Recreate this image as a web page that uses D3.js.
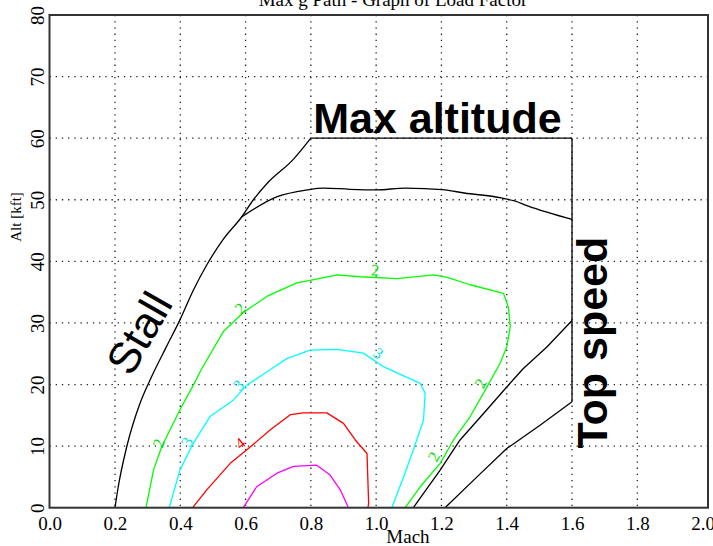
<!DOCTYPE html>
<html>
<head>
<meta charset="utf-8">
<script src="https://cdn.jsdelivr.net/npm/d3@7"></script>
<style>
  body { margin: 0; background: #fff; }
  svg { display: block; }
</style>
</head>
<body>
<div id="chart"></div>
<script>
// Chart data (Mach, altitude in kft)

var machTicks = [0.0, 0.2, 0.4, 0.6, 0.8, 1.0, 1.2, 1.4, 1.6, 1.8, 2.0];
var altTicks = [0, 10, 20, 30, 40, 50, 60, 70, 80];

// stall boundary, up to the max altitude corner
var stallLine = [[0.2, 0], [0.21, 3.4], [0.236, 9.9], [0.277, 17], [0.307, 20.7],
  [0.36, 26.4], [0.399, 30.5], [0.44, 35.3], [0.481, 39.4], [0.532, 43.6],
  [0.588, 47.2], [0.624, 50], [0.665, 52.6], [0.747, 56.6], [0.8, 60]];
var maxAltLine = [[0.8, 60], [1.6, 60]];
var topSpeedLine = [[1.6, 60], [1.6, 17.2]];

// ceiling (n = 1)
var ceilingLine = [[0.588, 47.2], [0.697, 50.5], [0.788, 51.6], [0.838, 51.9],
  [0.919, 51.7], [1.0, 51.6], [1.09, 51.9], [1.15, 51.8], [1.21, 51.6],
  [1.27, 51.1], [1.384, 50.3], [1.424, 49.8], [1.464, 49.0], [1.6, 46.8]];

// the two black lines at the high speed side
var highSpeedA = [[1.114, 0], [1.196, 6.1], [1.257, 11], [1.329, 15.3], [1.4, 19.6],
  [1.451, 22.6], [1.523, 26.1], [1.6, 30.4]];
var highSpeedB = [[1.211, 0], [1.309, 5], [1.4, 9.6], [1.502, 13.4], [1.6, 17.2]];

// load factor contours
var contour2 = [[0.295, 0], [0.318, 6.1], [0.343, 9.9], [0.399, 15.9], [0.44, 19.9],
  [0.466, 22.6], [0.532, 28.6], [0.593, 31.7], [0.665, 34.3], [0.757, 36.5],
  [0.798, 36.9], [0.88, 37.8], [0.951, 37.5], [1.063, 37.2], [1.176, 37.8],
  [1.217, 37.4], [1.288, 36.2], [1.39, 34.8], [1.405, 32.6], [1.411, 29.4],
  [1.4, 26.1], [1.38, 23.5], [1.334, 19.1], [1.288, 14.8], [1.237, 11],
  [1.196, 7.2], [1.135, 3.4], [1.089, 0]];
var contour3 = [[0.366, 0], [0.399, 6.1], [0.44, 10.5], [0.491, 14.8], [0.563, 17.5],
  [0.604, 19.9], [0.675, 22.4], [0.726, 24.2], [0.798, 25.6], [0.88, 25.7],
  [0.961, 25.1], [0.992, 24], [1.022, 22.9], [1.135, 20.2], [1.15, 18.6],
  [1.145, 14.2], [1.114, 9.4], [1.084, 5], [1.048, 0]];
var contour4 = [[0.438, 0], [0.481, 2.9], [0.553, 7.2], [0.604, 9.4], [0.675, 12.6],
  [0.737, 15.1], [0.777, 15.4], [0.849, 15.4], [0.9, 13.7], [0.936, 11],
  [0.972, 8.8], [0.977, 0.7], [0.975, 0]];
var contour5 = [[0.593, 0], [0.634, 3.4], [0.696, 5.6], [0.747, 6.7], [0.818, 6.9],
  [0.859, 5.3], [0.89, 2.9], [0.915, 0]];

// contour labels: [mach, alt, text]
var labels2 = [[0.997, 38.6, "2"], [0.583, 32.4, "2"], [0.333, 10.5, "2"],
  [1.319, 20.2, "2"], [1.176, 8.3, "2"]];
var labels3 = [[1.007, 25.1, "3"], [0.578, 19.9, "3"], [0.42, 10.7, "3"]];
var labels4 = [[0.583, 10.5, "4"]];

var chartTitle = "Max g Path - Graph of Load Factor";

// Build the plot

var svgWidth = 713;
var svgHeight = 546;

var svg = d3.select("#chart")
  .append("svg")
  .attr("width", svgWidth)
  .attr("height", svgHeight);

svg.append("rect")
  .attr("width", svgWidth)
  .attr("height", svgHeight)
  .attr("fill", "#fff");

var frame = {left: 49.5, right: 708, top: 15, bottom: 507.7};

var x = d3.scaleLinear().domain([0, 2]).range([49.7, 702.6]);
var y = d3.scaleLinear().domain([0, 80]).range([507.7, 15]);

var serif = "'Liberation Serif', 'Times New Roman', serif";
var sans = "'Liberation Sans', Arial, sans-serif";

// dotted grid
svg.append("g")
  .selectAll("line")
  .data(machTicks.slice(1, -1))
  .enter()
  .append("line")
  .attr("x1", d => x(d))
  .attr("x2", d => x(d))
  .attr("y1", frame.top)
  .attr("y2", frame.bottom)
  .attr("stroke", "#222")
  .attr("stroke-width", 1.3)
  .attr("stroke-dasharray", "1.3,4.9");

svg.append("g")
  .selectAll("line")
  .data(altTicks.slice(1, -1))
  .enter()
  .append("line")
  .attr("x1", frame.left)
  .attr("x2", frame.right)
  .attr("y1", d => y(d))
  .attr("y2", d => y(d))
  .attr("stroke", "#222")
  .attr("stroke-width", 1.3)
  .attr("stroke-dasharray", "1.3,4.9");

// axes (labels only, the frame is drawn below)
var bottomAxis = d3.axisBottom(x)
  .tickValues(machTicks)
  .tickFormat(d3.format(".1f"))
  .tickSize(0)
  .tickPadding(0);

var xAxis = svg.append("g")
  .attr("transform", `translate(0, ${frame.bottom})`)
  .call(bottomAxis);
xAxis.select(".domain").remove();
xAxis.selectAll("text")
  .attr("y", 22)
  .attr("dy", 0)
  .attr("fill", "#000")
  .style("font-family", serif)
  .style("font-size", "19px");

var leftAxis = d3.axisLeft(y)
  .tickValues(altTicks)
  .tickFormat(d3.format("d"))
  .tickSize(0);

var yAxis = svg.append("g")
  .attr("transform", `translate(${frame.left}, 0)`)
  .call(leftAxis);
yAxis.select(".domain").remove();
yAxis.selectAll("text")
  .attr("x", 0)
  .attr("dy", 0)
  .attr("transform", "translate(-6, 0) rotate(-90)")
  .attr("text-anchor", "middle")
  .attr("fill", "#000")
  .style("font-family", serif)
  .style("font-size", "19px");

// lines
var line = d3.line()
  .x(d => x(d[0]))
  .y(d => y(d[1]));

var smoothLine = d3.line()
  .curve(d3.curveMonotoneX)
  .x(d => x(d[0]))
  .y(d => y(d[1]));

var series = [
  {pts: stallLine, color: "#000", smooth: true},
  {pts: maxAltLine, color: "#000"},
  {pts: topSpeedLine, color: "#000"},
  {pts: ceilingLine, color: "#000", smooth: true},
  {pts: highSpeedA, color: "#000"},
  {pts: highSpeedB, color: "#000"},
  {pts: contour2, color: "#00ff00"},
  {pts: contour3, color: "#00ffff"},
  {pts: contour4, color: "#ff0000"},
  {pts: contour5, color: "#ff00ff"}
];

svg.append("g")
  .selectAll("path")
  .data(series)
  .enter()
  .append("path")
  .attr("d", d => d.smooth ? smoothLine(d.pts) : line(d.pts))
  .attr("fill", "none")
  .attr("stroke", d => d.color)
  .attr("stroke-width", 1.3)
  .attr("stroke-linejoin", "round");

// contour labels, turned along the local slope of their line
function slopeAngle(pts, m, h) {
  var best = 0, bestDist = Infinity;
  for (var i = 0; i < pts.length - 1; i++) {
    var mx = (x(pts[i][0]) + x(pts[i + 1][0])) / 2;
    var my = (y(pts[i][1]) + y(pts[i + 1][1])) / 2;
    var dist = Math.hypot(mx - x(m), my - y(h));
    if (dist < bestDist) { bestDist = dist; best = i; }
  }
  var a = Math.atan2(y(pts[best + 1][1]) - y(pts[best][1]),
    x(pts[best + 1][0]) - x(pts[best][0])) * 180 / Math.PI;
  if (a > 90) a -= 180;
  if (a < -90) a += 180;
  return a;
}

var labelSets = [
  {labels: labels2, pts: contour2, color: "#00dd00"},
  {labels: labels3, pts: contour3, color: "#00e5e5"},
  {labels: labels4, pts: contour4, color: "#ff0000"}
];

labelSets.forEach(function(set) {
  svg.append("g")
    .selectAll("text")
    .data(set.labels)
    .enter()
    .append("text")
    .attr("transform", d => `translate(${x(d[0])}, ${y(d[1])}) rotate(${slopeAngle(set.pts, d[0], d[1])})`)
    .attr("text-anchor", "middle")
    .attr("dy", "0.35em")
    .attr("fill", set.color)
    .style("font-family", serif)
    .style("font-size", "16px")
    .text(d => d[2]);
});

// frame
svg.append("rect")
  .attr("x", frame.left)
  .attr("y", frame.top)
  .attr("width", frame.right - frame.left)
  .attr("height", frame.bottom - frame.top)
  .attr("fill", "none")
  .attr("stroke", "#333")
  .attr("stroke-width", 2);

// annotations
svg.append("text")
  .attr("x", x(0.807))
  .attr("y", y(60.8))
  .style("font-family", sans)
  .style("font-weight", "bold")
  .style("font-size", "43px")
  .text("Max altitude");

svg.append("text")
  .attr("transform", `translate(${x(1.708)}, ${y(9.6)}) rotate(-90)`)
  .style("font-family", sans)
  .style("font-weight", "bold")
  .style("font-size", "43px")
  .text("Top speed");

svg.append("text")
  .attr("transform", `translate(${x(0.249)}, ${y(21.1)}) rotate(-60)`)
  .style("font-family", sans)
  .style("font-size", "44px")
  .text("Stall");

// titles
svg.append("text")
  .attr("x", 393)
  .attr("y", 6)
  .attr("text-anchor", "middle")
  .style("font-family", serif)
  .style("font-size", "19px")
  .text(chartTitle);

svg.append("text")
  .attr("x", 408)
  .attr("y", 543)
  .attr("text-anchor", "middle")
  .style("font-family", serif)
  .style("font-size", "19px")
  .text("Mach");

svg.append("text")
  .attr("transform", "translate(21, 217) rotate(-90)")
  .attr("text-anchor", "middle")
  .style("font-family", serif)
  .style("font-size", "15px")
  .text("Alt [kft]");
</script>
</body>
</html>
